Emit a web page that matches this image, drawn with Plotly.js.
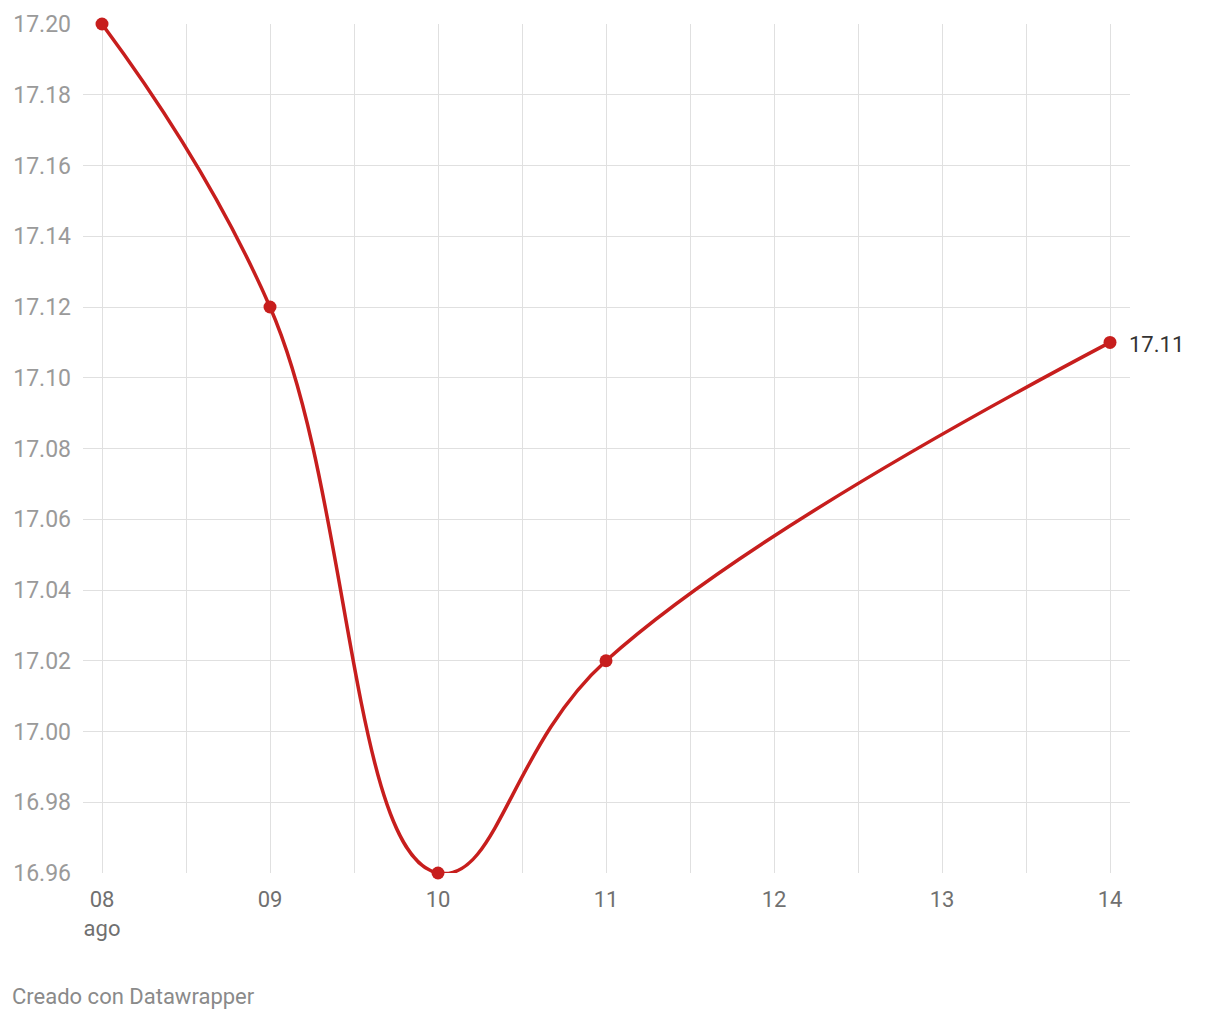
<!DOCTYPE html>
<html><head><meta charset="utf-8">
<script src="https://cdn.plot.ly/plotly-3.0.1.min.js"></script>
<style>body{margin:0;background:#fff}#chart{width:1220px;height:1020px}</style>
</head><body><div id="chart"></div>
<script>
const dates = ['2023-08-08','2023-08-09','2023-08-10','2023-08-11','2023-08-14'];
const values = [17.20, 17.12, 16.96, 17.02, 17.11];
const tickDates = ['2023-08-08','2023-08-09','2023-08-10','2023-08-11','2023-08-12','2023-08-13','2023-08-14'];
const tickLabels = ['08<br>ago','09','10','11','12','13','14'];
const yTicks = [16.96,16.98,17.00,17.02,17.04,17.06,17.08,17.10,17.12,17.14,17.16,17.18,17.20];
const lastLabel = '17.11';

const red = '#c71e1d';
const grid = '#e0e0e0';
const DAY = 86400000;
const t0 = new Date('2023-08-08T00:00:00Z').getTime();
const t1 = new Date('2023-08-14T00:00:00Z').getTime();
const fmt = t => new Date(t).toISOString().replace('T',' ').replace('Z','');
const xRange = [fmt(t0 - DAY*19/168), fmt(t1 + DAY*20/168)];

const trace = {
  x: dates, y: values, type: 'scatter', mode: 'lines+markers',
  line: {color: red, width: 3.5, shape: 'spline', smoothing: 1.2},
  marker: {color: red, size: 13},
  cliponaxis: false, hoverinfo: 'skip'
};

const layout = {
  width: 1220, height: 1020,
  margin: {l: 83, r: 90, t: 24, b: 147, autoexpand: false},
  paper_bgcolor: '#fff', plot_bgcolor: '#fff',
  font: {family: 'Roboto, sans-serif'},
  showlegend: false,
  xaxis: {
    type: 'date', range: xRange, automargin: false,
    tickmode: 'array', tickvals: tickDates, ticktext: tickLabels,
    showgrid: true, gridcolor: grid, gridwidth: 1,
    minor: {tickmode: 'linear', tick0: '2023-08-08', dtick: DAY/2, showgrid: true, gridcolor: grid, gridwidth: 1, ticks: ''},
    zeroline: false, showline: false, ticks: '',
    tickfont: {size: 22, color: '#707070'},
    ticklabelstandoff: 11
  },
  yaxis: {
    range: [16.96, 17.20], automargin: false,
    tickmode: 'array', tickvals: yTicks, ticktext: yTicks.map(v => v.toFixed(2)),
    showgrid: true, gridcolor: grid, gridwidth: 1,
    zeroline: false, showline: false, ticks: '',
    tickfont: {size: 23, color: '#9a9a9a'},
    ticklabelstandoff: 11
  },
  annotations: [
    {x: dates[dates.length-1], y: values[values.length-1], xref: 'x', yref: 'y',
     text: lastLabel, showarrow: false, xanchor: 'left', yanchor: 'middle', xshift: 17, yshift: -2,
     font: {size: 22, color: '#333'}},
    {x: -73/1047, y: -(997-873)/849, xref: 'paper', yref: 'paper', text: 'Creado con Datawrapper',
     showarrow: false, xanchor: 'left', yanchor: 'middle',
     font: {size: 22, color: '#8a8a8a'}}
  ]
};

Plotly.newPlot('chart', [trace], layout, {displayModeBar: false, staticPlot: true});
</script></body></html>
